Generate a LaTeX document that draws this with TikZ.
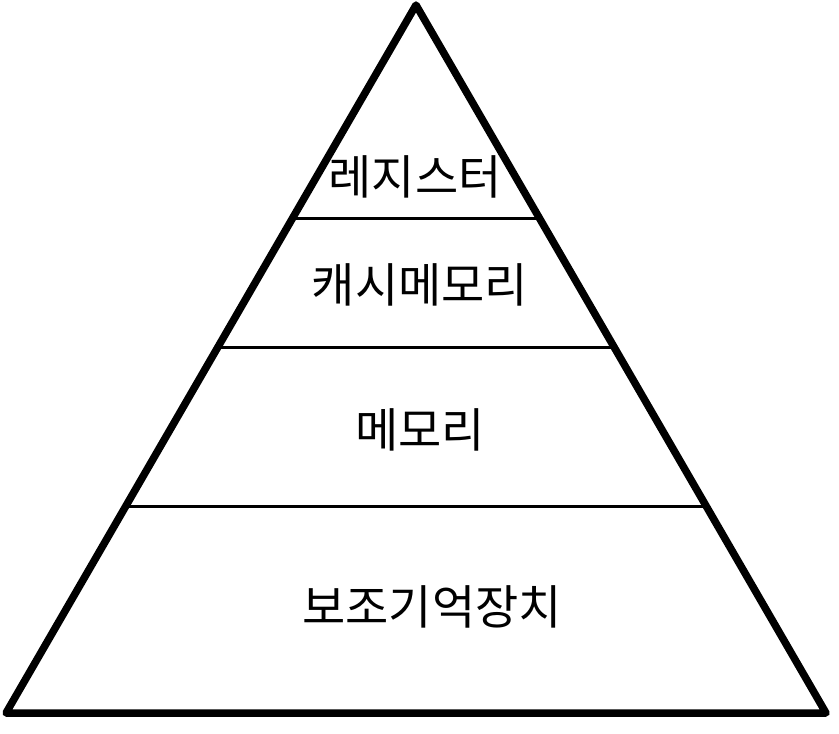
\documentclass[tikz,border=0pt]{standalone}
\usepackage{fontspec}
\newfontfamily\kr{Noto Sans CJK KR}
\usetikzlibrary{calc}
\begin{document}
\begin{tikzpicture}[x=1pt,y=-1pt,
  outline/.style={line width=7.5pt,line join=round,line cap=round},
  divider/.style={line width=3pt},
  label/.style={font=\kr\fontsize{47}{54}\selectfont,inner sep=0pt,anchor=center}]
\useasboundingbox (0,0) rectangle (839,734);
\coordinate (apex) at (416,5);
\coordinate (bl) at (6,713);
\coordinate (br) at (826,713);
\draw[outline] (apex) -- (bl) -- (br) -- cycle;
\foreach \y/\n in {219/a,347/b,507/c}{
  \pgfmathsetmacro{\t}{(\y-5)/708}
  \coordinate (l\n) at ($(apex)!\t!(bl)$);
  \coordinate (r\n) at ($(apex)!\t!(br)$);
  \draw[divider] (l\n) -- (r\n);
}
\node[label] (t1) at (415,177) {레지스터};
\node[label] (t2) at (420,285) {캐시메모리};
\node[label] (t3) at (420,430) {메모리};
\node[label] (t4) at (432,607) {보조기억장치};
\end{tikzpicture}
\end{document}
